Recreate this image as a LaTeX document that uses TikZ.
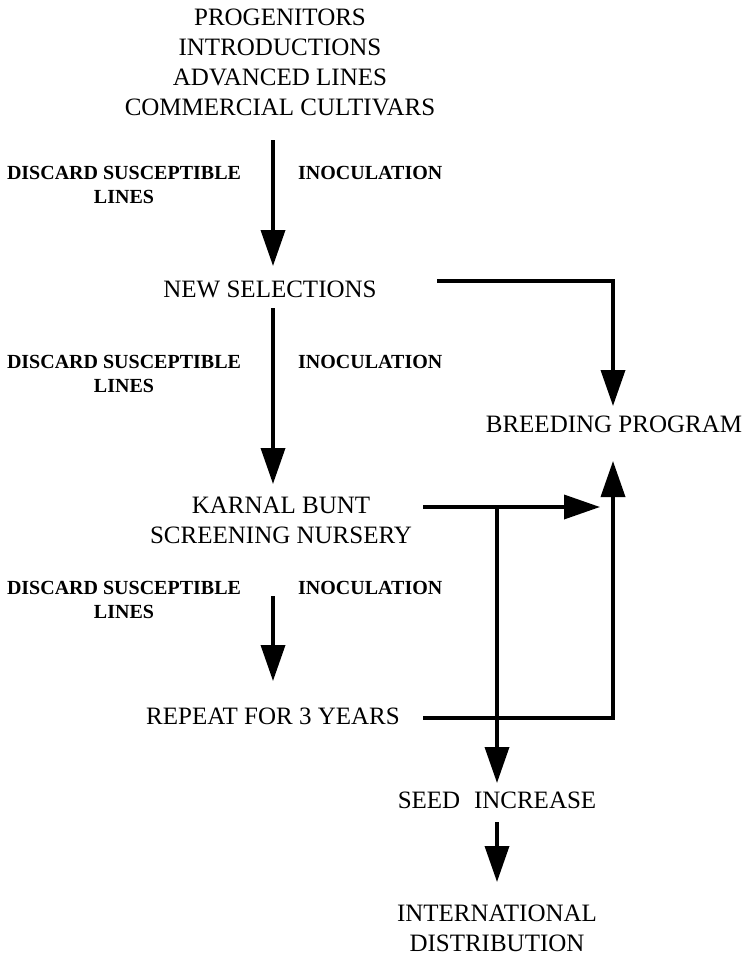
\documentclass[tikz,border=0pt]{standalone}
\usepackage{fontspec}
\setmainfont{Liberation Serif}
\usepackage{tikz}
\usetikzlibrary{arrows.meta,positioning,calc}

\begin{document}
\begin{tikzpicture}[
			x=1pt,
			y=-1pt,
			line cap=butt,
			line join=miter,
			box/.style={inner sep=0pt, align=center, font=\fontsize{25}{30}\selectfont},
			lbl/.style={inner sep=0pt, align=center, font=\fontsize{20}{24}\selectfont\bfseries},
			flow/.style={line width=3.6pt, -{Triangle[length=36pt,width=24pt]}},
			link/.style={line width=3.6pt}
			]
			
			\useasboundingbox (0,0) rectangle (747,955);
			
			%------------------------------
			% Stations of the screening
			%------------------------------
			\node[box] (src) at (280,62) {PROGENITORS\\INTRODUCTIONS\\ADVANCED LINES\\COMMERCIAL CULTIVARS};
			\node[box] (ns) at (270,289) {NEW SELECTIONS};
			\node[box] (kb) at (281,520) {KARNAL BUNT\\SCREENING NURSERY};
			\node[box] (rp) at (273,716) {REPEAT FOR 3 YEARS};
			\node[box] (bp) at (614,424) {BREEDING PROGRAM};
			\node[box] (si) at (497,800) {SEED\hspace{0.3em} INCREASE};
			\node[box] (id) at (497,928) {INTERNATIONAL\\DISTRIBUTION};
			
			% side notes of each inoculation step
			\foreach \y/\n in {173/1,362/2,588/3}{
				\node[lbl] (dis\n) at (124,\y+12) {DISCARD SUSCEPTIBLE\\LINES};
				\node[lbl, anchor=west] (ino\n) at (298,\y) {INOCULATION};
			}
			
			%------------------------------
			% Main column
			%------------------------------
			\coordinate (a1) at (273,140);
			\coordinate (b1) at (273,266);
			\coordinate (a2) at (273,308);
			\coordinate (b2) at (273,484);
			\coordinate (a3) at (273,596);
			\coordinate (b3) at (273,681);
			\draw[flow] (a1) -- (b1);
			\draw[flow] (a2) -- (b2);
			\draw[flow] (a3) -- (b3);
			
			%------------------------------
			% Branches to the right
			%------------------------------
			\coordinate (nsout) at (437,281);
			\coordinate (bptop) at (613,406);
			\coordinate (bpbot) at (613,461);
			\coordinate (kbout) at (423,507);
			\coordinate (kbend) at (600,507);
			\coordinate (j) at (497,507);
			\coordinate (rpout) at (423,718);
			\coordinate (sitop) at (497,783);
			\coordinate (sibot) at (497,822);
			\coordinate (idtop) at (497,882);
			
			\draw[flow] (nsout) -| (bptop);
			\draw[flow] (kbout) -- (kbend);
			\draw[flow] (j) -- (sitop);
			\draw[flow] (rpout) -| (bpbot);
			\draw[flow] (sibot) -- (idtop);
		\end{tikzpicture}
\end{document}
